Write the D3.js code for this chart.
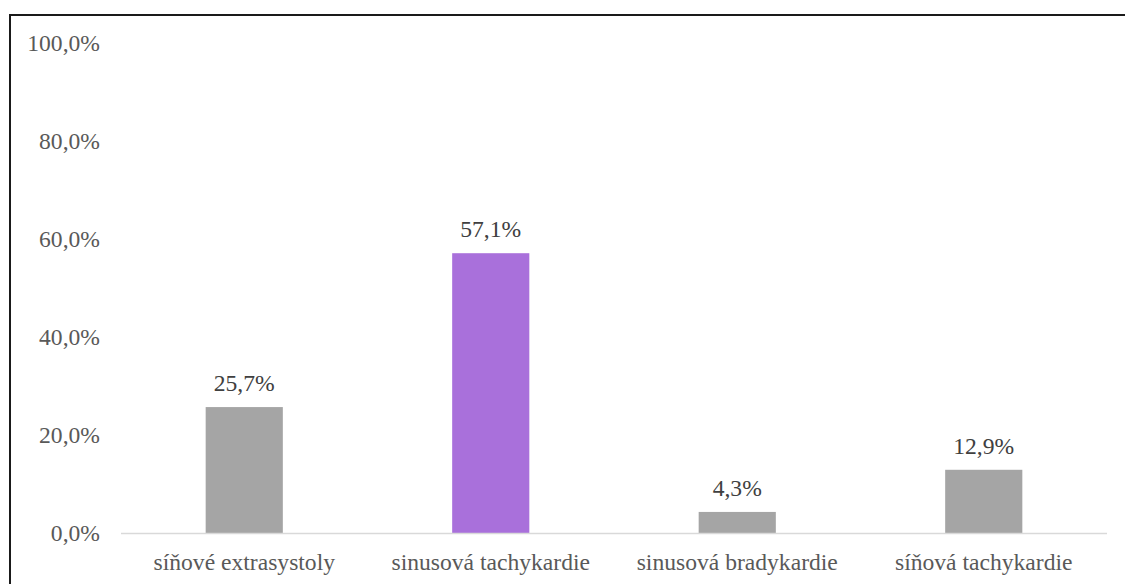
<!DOCTYPE html>
<html>
<head>
<meta charset="utf-8">
<script src="https://cdn.jsdelivr.net/npm/d3@7"></script>
<style>
  html, body { margin: 0; padding: 0; background: #fff; }
  svg { display: block; }
  svg text { font-family: "Liberation Serif", serif; font-size: 23.6px; }
</style>
</head>
<body>
<svg id="chart" width="1125" height="584"></svg>
<script>
// Data
const categories = ["síňové extrasystoly", "sinusová tachykardie", "sinusová bradykardie", "síňová tachykardie"];
const values = [25.7, 57.1, 4.3, 12.9];
const barColors = ["#a5a5a5", "#a970db", "#a5a5a5", "#a5a5a5"];
const yTicks = [0, 20, 40, 60, 80, 100];

const svg = d3.select("#chart");

// Outer frame (extends past the right and bottom edges)
svg.append("rect")
  .attr("x", 10).attr("y", 15)
  .attr("width", 1300).attr("height", 800)
  .attr("fill", "none")
  .attr("stroke", "#1a1a1a")
  .attr("stroke-width", 2);

const plot = { left: 121, right: 1107, top: 43, bottom: 533 };

const x = d3.scaleBand()
  .domain(categories)
  .range([plot.left, plot.right])
  .paddingInner(0.687)
  .paddingOuter(0.3435);

const y = d3.scaleLinear()
  .domain([0, 100])
  .range([plot.bottom, plot.top]);

const fmt = v => d3.format(".1f")(v).replace(".", ",") + "%";

// Y axis labels (no axis line, no gridlines)
const yAxis = d3.axisLeft(y).tickValues(yTicks).tickSize(0).tickPadding(0).tickFormat(fmt);
const yG = svg.append("g").attr("transform", "translate(100,0)").call(yAxis);
yG.select(".domain").remove();
yG.selectAll("text")
  .attr("x", 0)
  .attr("dy", "0.32em")
  .attr("fill", "#595959");

// Bars
svg.append("g").selectAll("rect")
  .data(values)
  .join("rect")
  .attr("x", (d, i) => x(categories[i]))
  .attr("y", d => y(d))
  .attr("width", x.bandwidth())
  .attr("height", d => y(0) - y(d))
  .attr("fill", (d, i) => barColors[i]);

// Baseline
svg.append("line")
  .attr("x1", plot.left).attr("x2", plot.right)
  .attr("y1", plot.bottom + 0.5).attr("y2", plot.bottom + 0.5)
  .attr("stroke", "#d9d9d9").attr("stroke-width", 1.5);

// Category axis labels
const xAxis = d3.axisBottom(x).tickSize(0).tickPadding(0);
const xG = svg.append("g").attr("transform", `translate(0,${plot.bottom})`).call(xAxis);
xG.select(".domain").remove();
xG.selectAll("text")
  .attr("y", 37)
  .attr("dy", 0)
  .attr("fill", "#595959");

// Value labels
svg.append("g").selectAll("text")
  .data(values)
  .join("text")
  .attr("x", (d, i) => x(categories[i]) + x.bandwidth() / 2)
  .attr("y", d => y(d) - 16)
  .attr("text-anchor", "middle")
  .attr("fill", "#404040")
  .text(d => fmt(d));
</script>
</body>
</html>
